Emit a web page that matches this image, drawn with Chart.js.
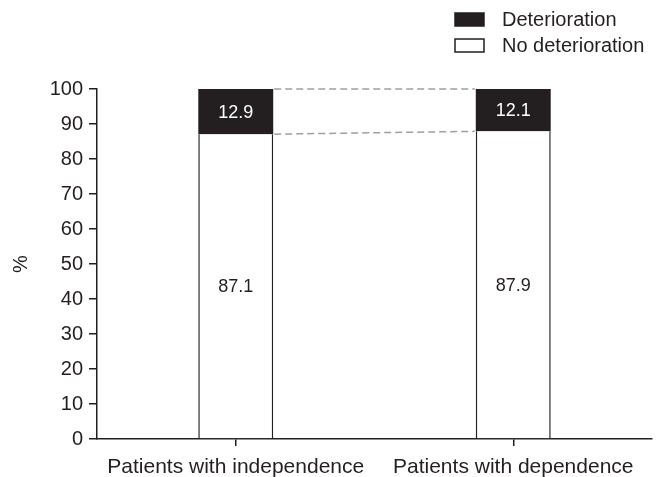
<!DOCTYPE html>
<html>
<head>
<meta charset="utf-8">
<script src="https://cdn.jsdelivr.net/npm/chart.js@4.4.1/dist/chart.umd.min.js"></script>
<style>
  html, body { margin: 0; padding: 0; background: #fff; }
  #wrap { width: 665px; height: 477px; position: relative; }
</style>
</head>
<body>
<div id="wrap"><canvas id="grafico"></canvas></div>
<script>
// Dados do grafico
var categorias = ['Patients with independence', 'Patients with dependence'];
var semPiora = [87.1, 87.9];
var piora = [12.9, 12.1];
var ticksY = [0, 10, 20, 30, 40, 50, 60, 70, 80, 90, 100];

var PRETO = '#231f20';
var FONTE = 'Arial, "Liberation Sans", Helvetica, sans-serif';

// Rotulos dentro das barras
var rotulos = {
    id: 'rotulos',
    afterDatasetsDraw: function (chart) {
        var ctx = chart.ctx;
        ctx.save();
        ctx.font = '18px ' + FONTE;
        ctx.textAlign = 'center';
        ctx.textBaseline = 'middle';
        chart.data.datasets.forEach(function (ds, i) {
            var meta = chart.getDatasetMeta(i);
            meta.data.forEach(function (bar, j) {
                ctx.fillStyle = i === 1 ? '#ffffff' : PRETO;
                ctx.fillText(ds.data[j].toFixed(1), bar.x, (bar.y + bar.base) / 2 + 1);
            });
        });
        ctx.restore();
    }
};

// Linhas tracejadas ligando as barras
var ligacoes = {
    id: 'ligacoes',
    afterDatasetsDraw: function (chart) {
        var ctx = chart.ctx;
        ctx.save();
        ctx.strokeStyle = '#a0a0a0';
        ctx.lineWidth = 1.5;
        ctx.setLineDash([7, 4]);
        chart.data.datasets.forEach(function (ds, i) {
            var meta = chart.getDatasetMeta(i);
            var a = meta.data[0], b = meta.data[1];
            ctx.beginPath();
            ctx.moveTo(a.x + a.width / 2 + 1, a.y);
            ctx.lineTo(b.x - b.width / 2 - 1, b.y);
            ctx.stroke();
        });
        ctx.restore();
    }
};

// Legenda desenhada no canto superior direito
var legenda = {
    id: 'legenda',
    afterDraw: function (chart) {
        var ctx = chart.ctx;
        ctx.save();
        ctx.font = '20px ' + FONTE;
        ctx.textBaseline = 'middle';
        var itens = [chart.data.datasets[1], chart.data.datasets[0]];
        itens.forEach(function (ds, k) {
            var y = 13 + k * 26;
            ctx.fillStyle = ds.backgroundColor;
            ctx.fillRect(455, y, 29, 13);
            ctx.strokeStyle = PRETO;
            ctx.lineWidth = 1.5;
            ctx.strokeRect(455, y, 29, 13);
            ctx.fillStyle = PRETO;
            ctx.fillText(ds.label, 502, y + 7);
        });
        ctx.restore();
    }
};

var ctx = document.getElementById('grafico').getContext('2d');
var grafico = new Chart(ctx, {
    type: 'bar',
    data: {
        labels: categorias,
        datasets: [{
            label: 'No deterioration',
            data: semPiora,
            backgroundColor: '#ffffff',
            borderColor: PRETO,
            borderWidth: { top: 0, left: 1.5, right: 1.5, bottom: 0 },
            borderSkipped: false,
            categoryPercentage: 1,
            barPercentage: 0.27
        }, {
            label: 'Deterioration',
            data: piora,
            backgroundColor: PRETO,
            borderColor: PRETO,
            borderWidth: 0,
            categoryPercentage: 1,
            barPercentage: 0.27
        }]
    },
    options: {
        responsive: true,
        maintainAspectRatio: false,
        animation: false,
        layout: { padding: { top: 89, right: 13, left: 0, bottom: 0 } },
        plugins: {
            legend: { display: false },
            tooltip: { enabled: false }
        },
        scales: {
            x: {
                stacked: true,
                afterFit: function (scale) { scale.height = 38; },
                border: { color: PRETO, width: 1.5 },
                grid: { display: true, drawOnChartArea: false, offset: false, tickLength: 7, color: PRETO, lineWidth: 1.5 },
                ticks: { color: PRETO, font: { size: 21, family: FONTE }, padding: 9, maxRotation: 0 }
            },
            y: {
                stacked: true,
                min: 0,
                max: 100,
                afterFit: function (scale) { scale.width = 97; },
                afterBuildTicks: function (scale) {
                    scale.ticks = ticksY.map(function (v) { return { value: v }; });
                },
                border: { color: PRETO, width: 1.5 },
                grid: { display: true, drawOnChartArea: false, tickLength: 8, color: PRETO, lineWidth: 1.5 },
                ticks: { color: PRETO, font: { size: 20, family: FONTE }, padding: 6 },
                title: { display: true, text: '%', color: PRETO, font: { size: 20, family: FONTE }, padding: { top: 9, bottom: 0 } }
            }
        }
    },
    plugins: [rotulos, ligacoes, legenda]
});
</script>
</body>
</html>
